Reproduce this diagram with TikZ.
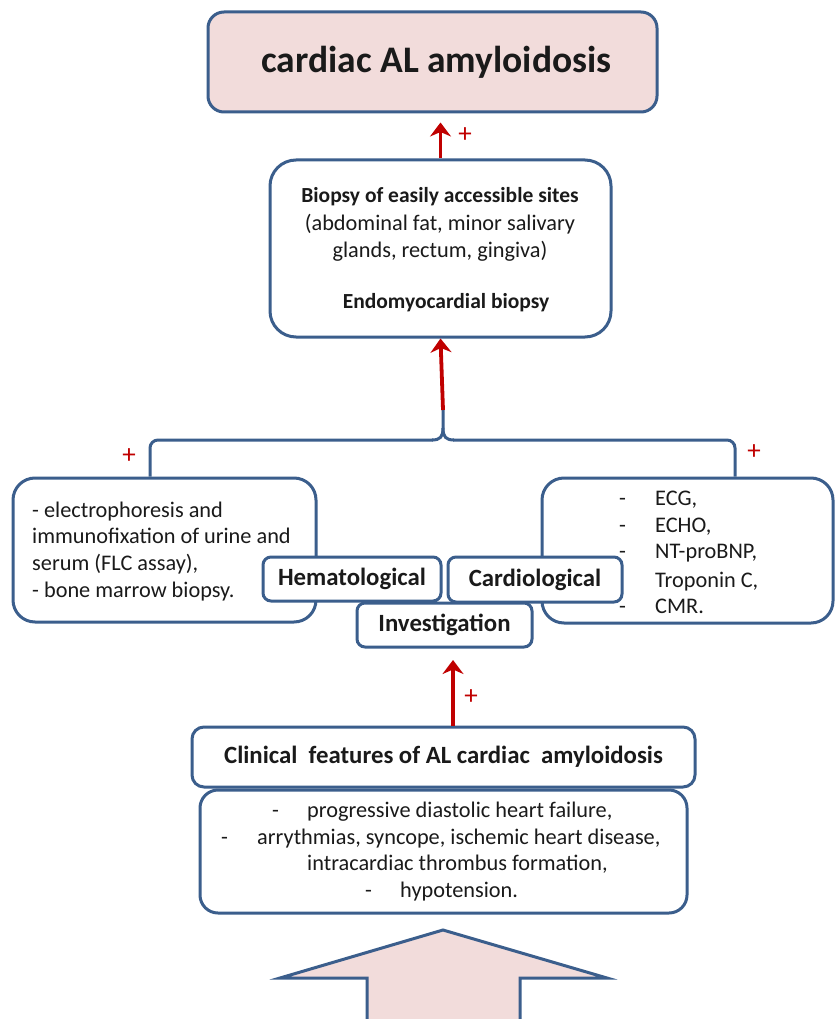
\documentclass[tikz,border=0pt]{standalone}
\usepackage{fontspec}
\setmainfont{Carlito}
\usetikzlibrary{arrows.meta}
\definecolor{bord}{HTML}{3B5E8C}
\definecolor{pinkf}{HTML}{F2DCDB}
\definecolor{redarr}{HTML}{C00000}
\definecolor{txt}{HTML}{1A1A1A}
\begin{document}
\begin{tikzpicture}[x=1pt,y=-1pt,
  box/.style={draw=bord, line width=3pt, rounded corners=16pt, fill=white, inner sep=0pt, text=txt},
  smallbox/.style={box, rounded corners=8pt},
  bodytext/.style={font=\fontsize{22.3}{26}\selectfont, text=txt, inner sep=0pt, anchor=base west},
  boldtext/.style={font=\bfseries\fontsize{21.5}{26}\selectfont, text=txt, inner sep=0pt, anchor=base},
  labeltext/.style={font=\bfseries\fontsize{24.8}{28}\selectfont},
  redarrow/.style={draw=redarr, line width=3.8pt, -{Stealth[length=14pt,width=21pt,inset=4.5pt]}},
  plus/.style={text=redarr, font=\fontsize{27}{27}\selectfont, inner sep=0pt},
  brace/.style={draw=bord, line width=3pt, rounded corners=8pt}
]
\clip (0,0) rectangle (835,1019);
\fill[white] (0,0) rectangle (835,1019);

% top box
\node[box, fill=pinkf, minimum width=449pt, minimum height=100pt, font=\bfseries\fontsize{37.5}{42}\selectfont] (top) at (432.5,62) {\hspace{8pt}cardiac AL amyloidosis};

% biopsy box
\node[box, rounded corners=26pt, minimum width=341pt, minimum height=177pt] (bio) at (440.5,248.5) {};
\node[boldtext] (b1) at (440,202) {Biopsy of easily accessible sites};
\node[bodytext, anchor=base] (b2) at (440,230) {(abdominal fat, minor salivary};
\node[bodytext, anchor=base] (b3) at (440,257) {glands, rectum, gingiva)};
\node[boldtext] (b4) at (446,308) {Endomyocardial biopsy};

% side boxes
\node[box, rounded corners=22pt, minimum width=303pt, minimum height=144pt] (lbox) at (164.5,550) {};
\node[bodytext] (l1) at (32,517) {- electrophoresis and};
\node[bodytext] (l2) at (32,543) {immunofixation of urine and};
\node[bodytext] (l3) at (32,570) {serum (FLC assay),};
\node[bodytext] (l4) at (32,597) {- bone marrow biopsy.};

\node[box, rounded corners=22pt, minimum width=291pt, minimum height=145pt] (rbox) at (687.5,550.5) {};
\node[bodytext] (rd1) at (619,505) {-};
\node[bodytext] (r1) at (655,505) {ECG,};
\node[bodytext] (rd2) at (619,532) {-};
\node[bodytext] (r2) at (655,532) {ECHO,};
\node[bodytext] (rd3) at (619,558) {-};
\node[bodytext] (r3) at (655,558) {NT-proBNP,};
\node[bodytext] (r4) at (655,587) {Troponin C,};
\node[bodytext] (rd5) at (619,613) {-};
\node[bodytext] (r5) at (655,613) {CMR.};

% label boxes
\node[smallbox, labeltext, minimum width=178pt, minimum height=44pt] (hema) at (352,579) {Hematological};
\node[smallbox, labeltext, minimum width=174pt, minimum height=45pt] (cardio) at (535,579.5) {Cardiological};
\node[smallbox, labeltext, minimum width=175pt, minimum height=44pt] (inv) at (444.5,625) {Investigation};

% brace
\coordinate (bl) at (150,440);
\coordinate (br) at (735,440);
\coordinate (cusp) at (443,410);
\draw[brace] (lbox.north -| bl) -- (bl) -- (433,440);
\draw[draw=bord, line width=3pt] (432,440) .. controls (440,440) and (443,437) .. (443,428) -- (cusp);
\draw[brace] (rbox.north -| br) -- (br) -- (453,440);
\draw[draw=bord, line width=3pt] (454,440) .. controls (446,440) and (443,437) .. (443,428);

\node[plus] (pl) at (129,456) {+};
\node[plus] (pr) at (754,452) {+};

% red arrows
\draw[redarrow] (cusp) -- (bio.south);
\draw[redarrow] (bio.north) -- ([yshift=-9pt]top.south -| bio.north);
\node[plus] (pt) at (465,135) {+};

% clinical
\node[box, rounded corners=12pt, labeltext, minimum width=503pt, minimum height=60pt] (clin) at (443.5,757) {Clinical\ \ features of AL cardiac\ \ amyloidosis};
\node[box, rounded corners=18pt, minimum width=487pt, minimum height=123pt] (list) at (443.5,851.5) {};
\node[bodytext] (cd1) at (272,817) {-};
\node[bodytext] (c1) at (307,817) {progressive diastolic heart failure,};
\node[bodytext] (cd2) at (221,844) {-};
\node[bodytext] (c2) at (257,844) {arrythmias, syncope, ischemic heart disease,};
\node[bodytext] (c3) at (307,870) {intracardiac thrombus formation,};
\node[bodytext] (cd4) at (365,897) {-};
\node[bodytext] (c4) at (400,897) {hypotension.};

\coordinate (invtip) at (453,660);
\draw[redarrow] (clin.north -| invtip) -- (invtip);
\node[plus] (pi) at (471,697) {+};

% big arrow
\draw[draw=bord, fill=pinkf, line width=3pt, line join=miter]
  (443,930) -- (607,978) -- (520,978) -- (520,1040) -- (367,1040) -- (367,978) -- (280,978) -- cycle;
\end{tikzpicture}
\end{document}
